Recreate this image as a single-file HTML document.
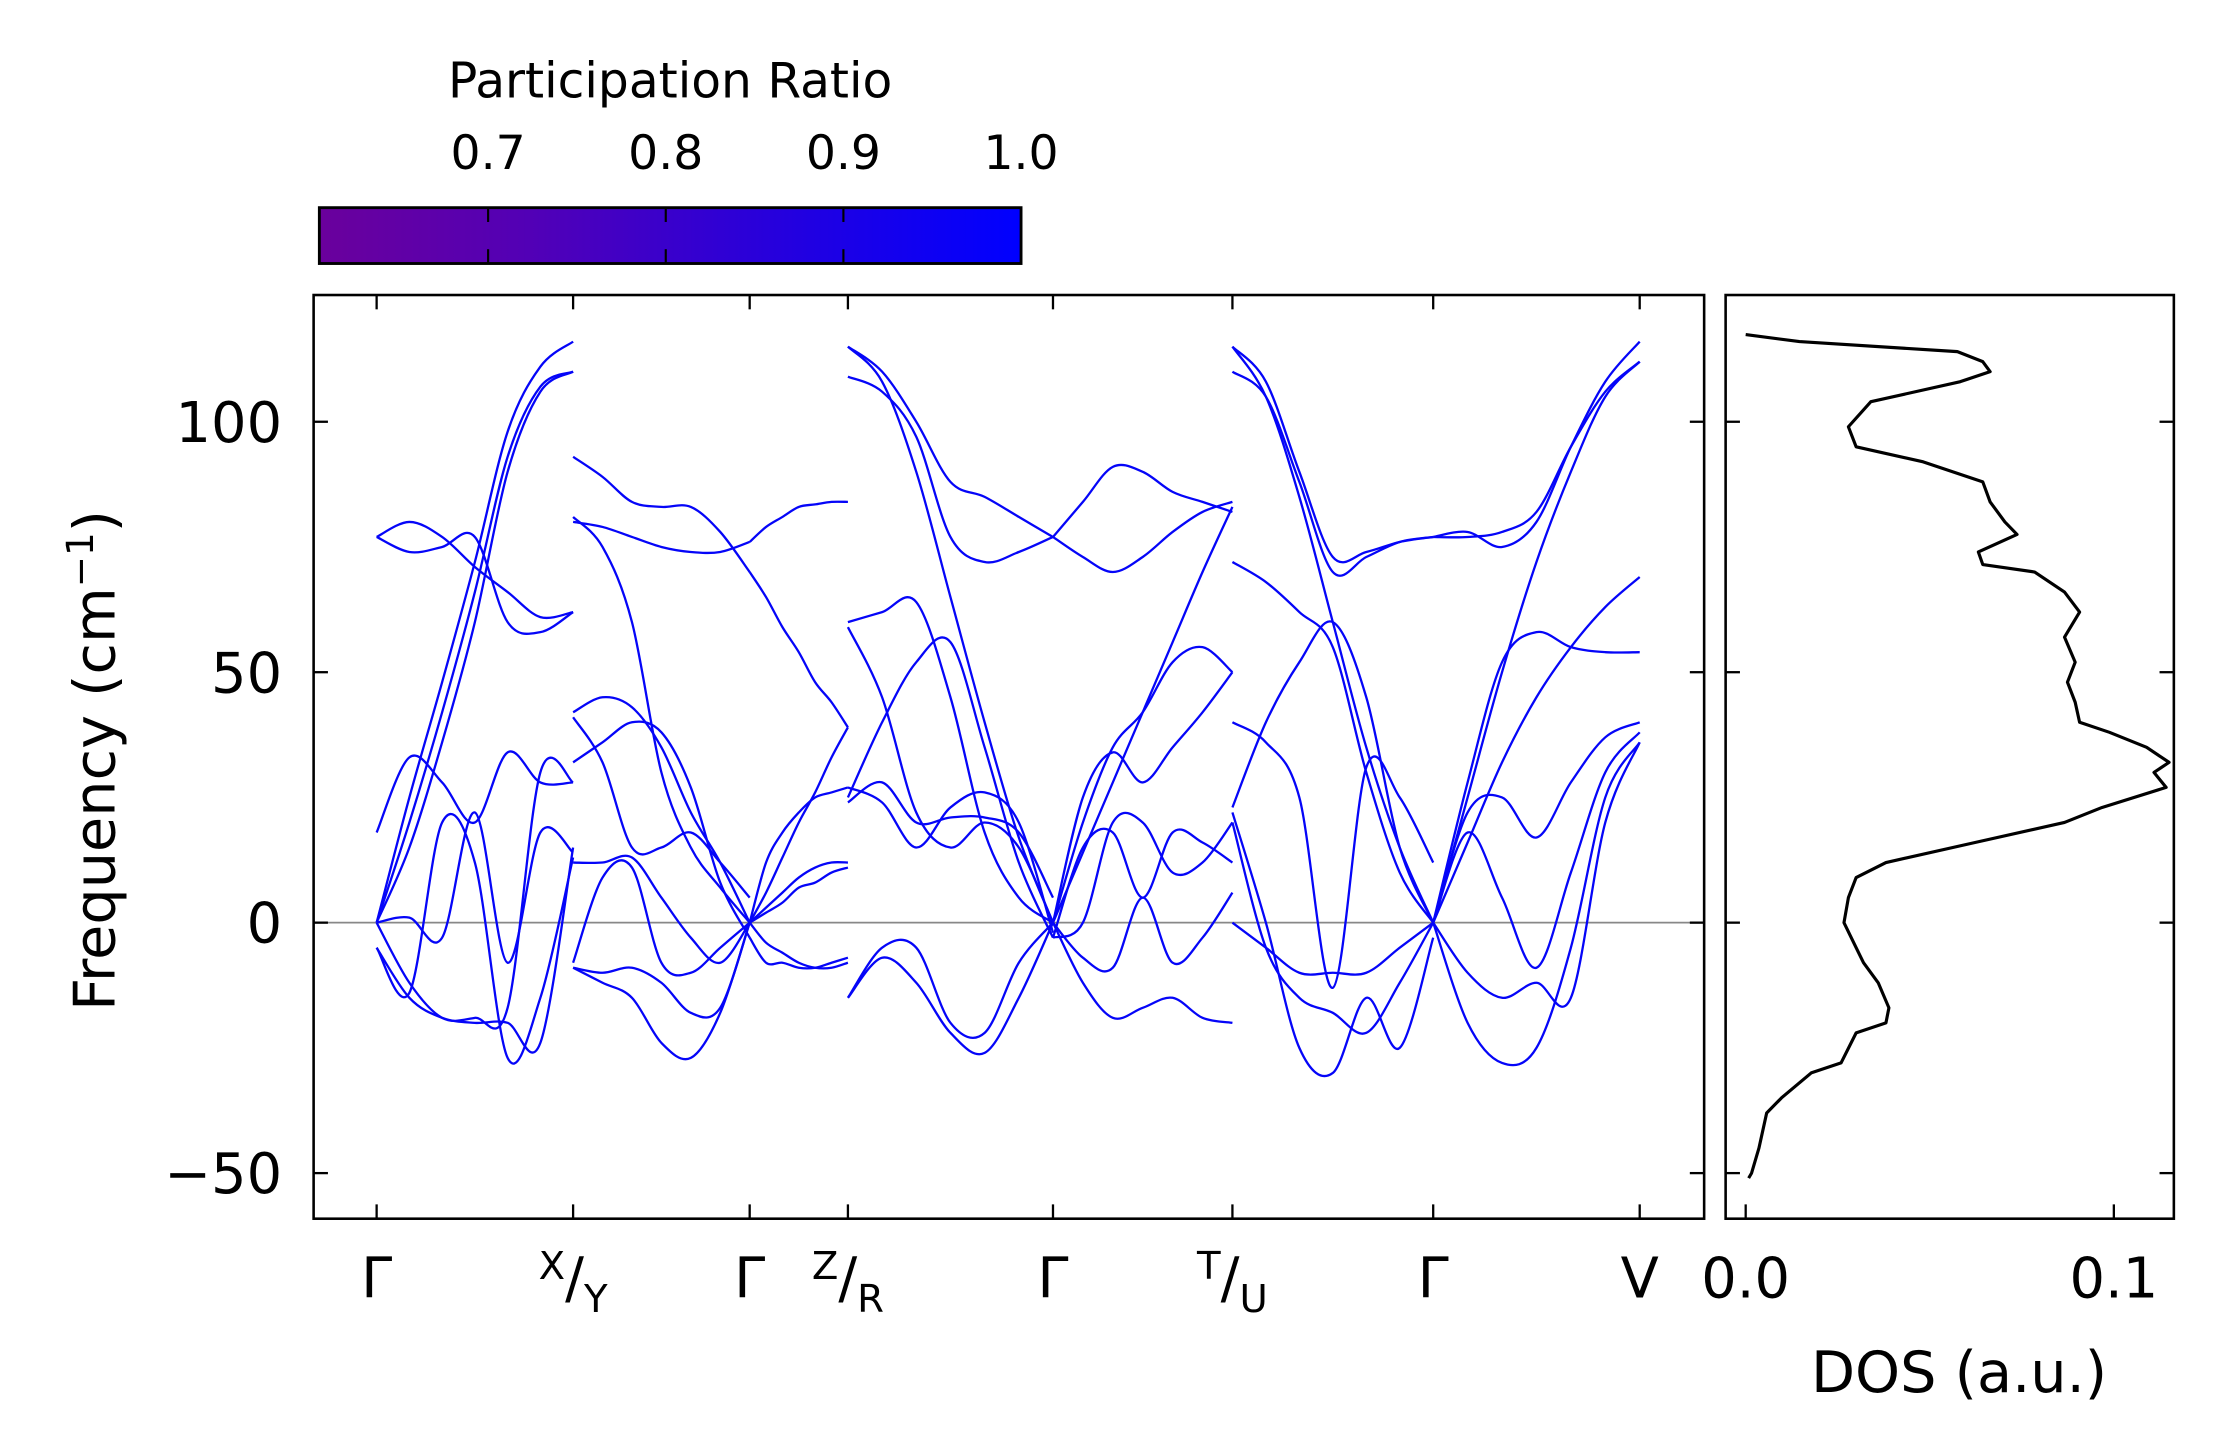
<!DOCTYPE html>
<html><head><meta charset="utf-8">
<style>
html,body{margin:0;padding:0;background:#fff;}
svg{display:block;}
text{font-family:"DejaVu Sans","Liberation Sans",sans-serif;fill:#000;}
</style></head>
<body>
<svg id="fig" width="2234" height="1455" viewBox="0 0 1560 1016" xmlns="http://www.w3.org/2000/svg">
<defs>
<linearGradient id="cbgrad" x1="0" x2="1" y1="0" y2="0">
<stop offset="0" stop-color="#6a009c"/><stop offset="0.3" stop-color="#5200b6"/><stop offset="0.7" stop-color="#2000e2"/><stop offset="1" stop-color="#0000ff"/>
</linearGradient>
<clipPath id="mainclip"><rect x="219" y="206" width="971" height="645"/></clipPath>
<clipPath id="dosclip"><rect x="1205" y="206" width="313" height="645"/></clipPath>
</defs>
<g>
<text x="468" y="68" font-size="34" text-anchor="middle">Participation Ratio</text>
<rect x="223" y="145" width="490" height="39" fill="url(#cbgrad)" stroke="#000" stroke-width="2"/>
<g id="cbticks"></g>
</g>
<g id="main"></g>
<g id="dos"></g>
</svg>
<script>
// ---- data ----
const cbTicks = [0.7, 0.8, 0.9, 1.0];
const cbRange = [0.605, 1.0];
const yTicks = [-50, 0, 50, 100];
const yRange = [-59.1, 125.3];
const kTicks = [0, 1.372, 2.605, 3.291, 4.723, 5.976, 7.378, 8.82];
const kRange = [-0.44, 9.27];
const kLabels = [["Γ",""],["X","Y"],["Γ",""],["Z","R"],["Γ",""],["T","U"],["Γ",""],["V",""]];
// bands per segment (frequency in cm^-1 at 7 evenly spaced k points)
const seg1 = [[0,25,48,72,98,111,116],[0,20,42,66,93,107,110],[0,15,36,60,90,106,110],[77,80,77,71,66,61,62],[77,74,75,77,60,58,62],[18,33,28,20,34,28,28],[-5,-14,20,12,-27,-15,13],[0,-12,-19,-19,-17,30,28],[0,1,-3,22,-8,18,14],[-5,-15,-19,-20,-20,-24,15]];
const seg2 = [[93,89,84,83,83,78,70],[80,79,77,75,74,74,76],[81,75,60,30,15,7,0],[42,45,43,35,22,12,0],[41,32,15,15,18,12,5],[32,36,40,38,27,8,-3],[-8,9,11,-8,-10,-5,0],[-9,-12,-15,-24,-27,-18,0],[-9,-10,-9,-12,-18,-17,0],[12,12,13,5,-3,-8,0]];
const seg3 = [[70,65,59,54,48,44,39],[76,79,81,83,83.5,84,84],[0,6,13,20,26,33,39],[0,12,18,22,25,26,27],[0,3,6,9,11,12,12],[0,2,4,7,8,10,11],[0,-4,-6,-8,-9,-9,-8],[-3,-8,-8,-9,-9,-8,-7]];
const seg4 = [[115,110,100,88,85,81,77],[109,106,97,77,72,74,77],[115,108,90,65,40,17,0],[60,62,64,45,18,5,0],[59,45,22,15,20,15,0],[25,40,52,56,35,12,-3],[24,28,20,21,21,18,5],[-15,-7,-12,-22,-26,-15,0],[-15,-5,-5,-20,-22,-8,0],[27,24,15,23,26,20,-2]];
const seg5 = [[77,73,70,73,78,82,84],[77,84,91,90,86,84,82],[0,14,28,42,56,70,83],[0,20,35,42,52,55,50],[0,25,34,28,35,42,50],[-3,15,18,5,18,16,12],[0,-12,-19,-17,-15,-19,-20],[0,-7,-9,5,-8,-3,6],[-3,0,20,20,10,12,20]];
const seg6 = [[115,108,90,73,74,76,77],[110,105,88,70,73,76,77],[115,105,85,60,35,15,0],[72,68,62,55,30,10,0],[23,40,52,60,45,15,0],[40,36,25,-13,31,25,12],[22,0,-25,-30,-15,-25,-3],[20,-5,-15,-18,-22,-12,0],[0,-5,-10,-10,-10,-5,0]];
const seg7 = [[77,78,75,80,95,108,116],[77,77,78,82,95,106,112],[0,25,50,72,90,105,112],[0,28,52,58,55,54,54],[0,16,32,45,55,63,69],[0,22,25,17,28,37,40],[0,18,5,-9,10,30,38],[0,-20,-28,-25,-5,25,36],[0,-10,-15,-12,-15,20,36]];
const segments = [seg1, seg2, seg3, seg4, seg5, seg6, seg7];
const dosFreq = [117.4,116,114,112,110,108,104,99,95,92,88,84,80,77.5,74,71.5,70,66,62,57,52,48,44,40,38,35,32,30,27,23,20,16,12,9,5,0,-5,-8,-12,-17,-20,-22,-28,-30,-35,-38,-45,-50,-51];
const dosVal = [0,0.0146,0.0575,0.0644,0.0664,0.0583,0.034,0.0279,0.03,0.0482,0.0644,0.0664,0.0704,0.0737,0.0632,0.0644,0.0785,0.0866,0.0907,0.0866,0.0895,0.0874,0.0895,0.0907,0.0988,0.1089,0.115,0.1109,0.1142,0.0968,0.0866,0.0623,0.0381,0.03,0.0279,0.0267,0.03,0.032,0.036,0.0389,0.0381,0.03,0.0259,0.0178,0.0097,0.0057,0.0036,0.0016,0.0008];
const dosTicks = [0.0, 0.1];
const dosRange = [-0.00545, 0.1163];

// ---- layout ----
const NS = "http://www.w3.org/2000/svg";
const MX0=219, MX1=1190, Y0=206, Y1=851, DX0=1205, DX1=1518, CB0=223, CB1=713;
const yS = v => Y1 - (v - yRange[0]) / (yRange[1] - yRange[0]) * (Y1 - Y0);
const kS = v => MX0 + (v - kRange[0]) / (kRange[1] - kRange[0]) * (MX1 - MX0);
const dS = v => DX0 + (v - dosRange[0]) / (dosRange[1] - dosRange[0]) * (DX1 - DX0);
const cS = v => CB0 + (v - cbRange[0]) / (cbRange[1] - cbRange[0]) * (CB1 - CB0);
function mk(tag, attrs, parent){const e=document.createElementNS(NS,tag);for(const k in attrs)e.setAttribute(k,attrs[k]);parent.appendChild(e);return e;}
function smooth(pts){
  let d="M"+pts[0][0].toFixed(2)+","+pts[0][1].toFixed(2);
  for(let i=0;i<pts.length-1;i++){
    const p0=pts[Math.max(0,i-1)],p1=pts[i],p2=pts[i+1],p3=pts[Math.min(pts.length-1,i+2)];
    const c1=[p1[0]+(p2[0]-p0[0])/6,p1[1]+(p2[1]-p0[1])/6],c2=[p2[0]-(p3[0]-p1[0])/6,p2[1]-(p3[1]-p1[1])/6];
    d+=" C"+c1.map(v=>v.toFixed(2)).join(",")+" "+c2.map(v=>v.toFixed(2)).join(",")+" "+p2[0].toFixed(2)+","+p2[1].toFixed(2);
  }
  return d;
}
const cbg = document.getElementById('cbticks');
cbTicks.forEach(t=>{
  const x=cS(t);
  if(t<1.0){
    const l1=mk('line',{x1:x,x2:x,y1:145,y2:155,stroke:'#000','stroke-width':1.5},cbg);
    
    
    const l2=mk('line',{x1:x,x2:x,y1:174,y2:184,stroke:'#000','stroke-width':1.5},cbg);
    
    
  }
  const tx=mk('text',{x:x,y:118,'font-size':33,'text-anchor':'middle'},cbg);
  tx.textContent=t.toFixed(1);
  
  
});

// main axes
const main=document.getElementById('main');
const zl=mk('line',{x1:MX0,x2:MX1,y1:yS(0),y2:yS(0),stroke:'#888','stroke-width':1.2},main);


const bandG=mk('g',{'clip-path':'url(#mainclip)'},main);


segments.forEach((seg,si)=>{
  const ka=kTicks[si], kb=kTicks[si+1];
  seg.forEach(band=>{
    const n=band.length;
    const pts=band.map((f,i)=>[kS(ka+(kb-ka)*i/(n-1)), yS(f)]);
    const p=mk('path',{d:smooth(pts),fill:'none',stroke:'#0505f8','stroke-width':1.6},bandG);
    
    
  });
});
const frame=mk('rect',{x:MX0,y:Y0,width:MX1-MX0,height:Y1-Y0,fill:'none',stroke:'#000','stroke-width':1.8},main);


yTicks.forEach(t=>{
  const y=yS(t);
  mk('line',{x1:MX0,x2:MX0+10,y1:y,y2:y,stroke:'#000','stroke-width':1.6},main);
  mk('line',{x1:MX1-10,x2:MX1,y1:y,y2:y,stroke:'#000','stroke-width':1.6},main);
  const tx=mk('text',{x:197,y:y+14,'font-size':39,'text-anchor':'end'},main);
  tx.textContent=t<0?"\u2212"+Math.abs(t):String(t);
  
  
});
kTicks.forEach((t,i)=>{
  const x=kS(t);
  mk('line',{x1:x,x2:x,y1:Y0,y2:Y0+10,stroke:'#000','stroke-width':1.6},main);
  mk('line',{x1:x,x2:x,y1:Y1-10,y2:Y1,stroke:'#000','stroke-width':1.6},main);
  const lab=kLabels[i];
  let tx;
  if(lab[1]===""){
    tx=mk('text',{x:x,y:906,'font-size':39,'text-anchor':'middle'},main);
    tx.textContent=lab[0];
  } else {
    tx=mk('text',{x:x,y:906,'font-size':39,'text-anchor':'middle'},main);
    const a=mk('tspan',{'font-size':27,dy:-13},tx); a.textContent=lab[0];
    const b=mk('tspan',{dy:13},tx); b.textContent="/";
    const c=mk('tspan',{'font-size':27,dy:10},tx); c.textContent=lab[1];
  }
  
  
});
const yl=mk('text',{x:0,y:0,'font-size':40,'text-anchor':'middle',transform:'translate(80,531) rotate(-90)'},main);
yl.innerHTML='Frequency (cm<tspan font-size="26" dy="-15">\u22121</tspan><tspan dy="15">)</tspan>';



// DOS axes
const dos=document.getElementById('dos');
const dg=mk('g',{'clip-path':'url(#dosclip)'},dos);
const dpts=dosFreq.map((f,i)=>[dS(dosVal[i]), yS(f)]);
const dp=mk('path',{d:"M"+dpts.map(p=>p[0].toFixed(2)+","+p[1].toFixed(2)).join(" L"),fill:'none',stroke:'#000','stroke-width':2.2,'stroke-linejoin':'round'},dg);


const df=mk('rect',{x:DX0,y:Y0,width:DX1-DX0,height:Y1-Y0,fill:'none',stroke:'#000','stroke-width':1.8},dos);


yTicks.forEach(t=>{
  const y=yS(t);
  mk('line',{x1:DX0,x2:DX0+10,y1:y,y2:y,stroke:'#000','stroke-width':1.6},dos);
  mk('line',{x1:DX1-10,x2:DX1,y1:y,y2:y,stroke:'#000','stroke-width':1.6},dos);
});
dosTicks.forEach(t=>{
  const x=dS(t);
  mk('line',{x1:x,x2:x,y1:Y1-10,y2:Y1,stroke:'#000','stroke-width':1.6},dos);
  const tx=mk('text',{x:x,y:906,'font-size':39,'text-anchor':'middle'},dos);
  tx.textContent=t.toFixed(1);
  
  
});
const dl=mk('text',{x:1368,y:972,'font-size':40,'text-anchor':'middle'},dos);
dl.textContent="DOS (a.u.)";


</script>
</body></html>
